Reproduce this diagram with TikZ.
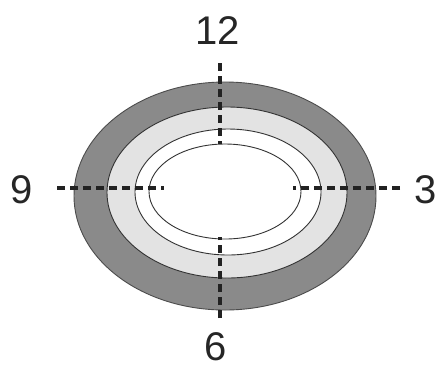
\documentclass[tikz,border=0pt]{standalone}
\usepackage{fontspec}
\setmainfont{Liberation Sans}
\definecolor{ringdark}{HTML}{8A8A8A}
\definecolor{ringlight}{HTML}{E3E3E3}
\definecolor{dashcol}{HTML}{222222}
\begin{document}
\begin{tikzpicture}[x=1pt,y=-1pt,
  ring/.style={draw=black!80,line width=0.9pt},
  axis/.style={draw=dashcol,line width=3.2pt,dash pattern=on 8pt off 5pt},
  lab/.style={font=\fontsize{40}{40}\selectfont,text=black!85,inner sep=0pt}]
\useasboundingbox (0,0) rectangle (438,368);
\fill[white] (0,0) rectangle (438,368);
% rings
\filldraw[ring,fill=ringdark,draw=black!70] (225,196) ellipse [x radius=151,y radius=114];
\filldraw[ring,fill=ringlight] (227,192.5) ellipse [x radius=120,y radius=85.5];
\filldraw[ring,fill=white] (228,192) ellipse [x radius=93,y radius=63];
\draw[ring] (225,191.5) ellipse [x radius=76,y radius=47.5];
% axis end points
\coordinate (t1) at (220,63);
\coordinate (t2) at (220,144);
\coordinate (b1) at (220,237);
\coordinate (b2) at (220,318);
\coordinate (l1) at (57,188);
\coordinate (l2) at (164,188);
\coordinate (r1) at (293,188);
\coordinate (r2) at (400,188);
\draw[axis] (t1) -- (t2);
\draw[axis] (b2) -- (b1);
\draw[axis] (l1) -- (l2);
\draw[axis] (r2) -- (r1);
% labels
\node[lab] (n12) at (218,31) {12};
\node[lab] (n9) at (22,190) {9};
\node[lab] (n3) at (426,190) {3};
\node[lab] (n6) at (216,347) {6};
\end{tikzpicture}
\end{document}
